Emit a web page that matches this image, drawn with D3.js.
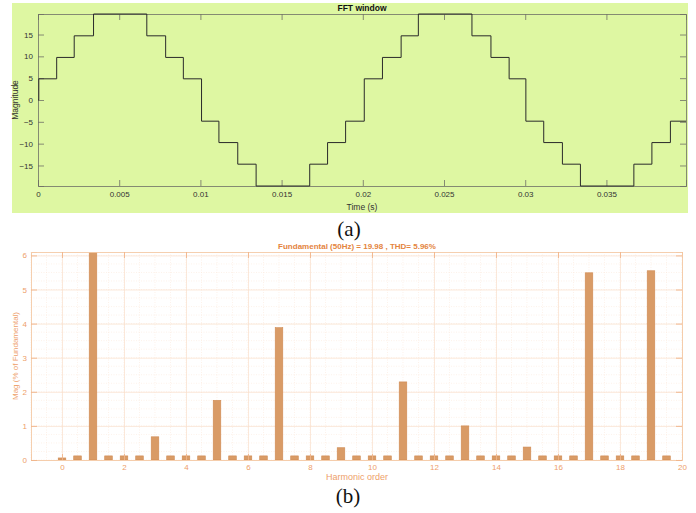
<!DOCTYPE html>
<html>
<head>
<meta charset="utf-8">
<script src="https://cdn.jsdelivr.net/npm/d3@7"></script>
<style>
  body { margin: 0; background: #fff; overflow: hidden; }
  text { font-family: 'Liberation Sans', Arial, sans-serif; }
</style>
</head>
<body>
<div id="chart"></div>
<script>
// (a) stepped inverter output, switching instants in ms and level after each instant
const waveTimes = [0, 0.05, 1.15, 2.23, 3.42, 6.70, 7.86, 8.95, 10.07, 11.14, 12.30, 13.43,
  16.73, 17.83, 18.94, 20.09, 21.21, 22.36, 23.42, 26.72, 27.89, 29.01, 30.04, 31.14,
  32.29, 33.40, 36.69, 37.80, 38.94, 39.9]
const waveLevels = [0, 4.85, 9.75, 14.7, 19.7, 14.7, 9.75, 4.85, -4.85, -9.75, -14.7, -19.7,
  -14.7, -9.75, -4.85, 4.85, 9.75, 14.7, 19.7, 14.7, 9.75, 4.85, -4.85, -9.75,
  -14.7, -19.7, -14.7, -9.75, -4.85, -4.85]
const timeTicks = [0, 0.005, 0.01, 0.015, 0.02, 0.025, 0.03, 0.035]
const magTicks = [-15, -10, -5, 0, 5, 10, 15]

// (b) harmonic spectrum, % of fundamental
const orders = [0, 0.5, 1, 1.5, 2, 2.5, 3, 3.5, 4, 4.5, 5, 5.5, 6, 6.5, 7, 7.5, 8, 8.5, 9, 9.5,
  10, 10.5, 11, 11.5, 12, 12.5, 13, 13.5, 14, 14.5, 15, 15.5, 16, 16.5, 17, 17.5, 18, 18.5, 19, 19.5]
const mags = [0.06, 0.12, 100, 0.12, 0.12, 0.12, 0.68, 0.12, 0.12, 0.12, 1.75, 0.12, 0.12, 0.12,
  3.88, 0.12, 0.12, 0.12, 0.36, 0.12, 0.12, 0.12, 2.29, 0.12, 0.12, 0.12, 1.0, 0.12, 0.12, 0.12,
  0.38, 0.12, 0.12, 0.12, 5.49, 0.12, 0.12, 0.12, 5.55, 0.12]
const orderTicks = [0, 2, 4, 6, 8, 10, 12, 14, 16, 18, 20]
const pctTicks = [0, 1, 2, 3, 4, 5, 6]

const W = 696
const H = 513

const svg = d3.select('#chart').append('svg')
  .attr('width', W)
  .attr('height', H)

// ---------- (a) ----------
const green = '#def7a2'
const gray = '#6f6f66'
const a = { left: 38, right: 686, top: 14, bottom: 186 }

svg.append('rect')
  .attr('x', 12).attr('y', 3)
  .attr('width', 676).attr('height', 210)
  .attr('fill', green)

const x1 = d3.scaleLinear().domain([0, 0.0399]).range([a.left, a.right])
const y1 = d3.scaleLinear().domain([-19.7, 19.7]).range([a.bottom, a.top])

const gA = svg.append('g')
const tick = 6

gA.append('g')
  .attr('transform', `translate(0,${a.bottom})`)
  .call(d3.axisBottom(x1).tickValues(timeTicks).tickSize(-tick).tickPadding(5)
    .tickFormat(d => d === 0 ? '0' : String(d)))
gA.append('g')
  .attr('transform', `translate(0,${a.top})`)
  .call(d3.axisTop(x1).tickValues(timeTicks).tickSize(-tick).tickFormat(''))
gA.append('g')
  .attr('transform', `translate(${a.left},0)`)
  .call(d3.axisLeft(y1).tickValues(magTicks).tickSize(-tick).tickPadding(5))
gA.append('g')
  .attr('transform', `translate(${a.right},0)`)
  .call(d3.axisRight(y1).tickValues(magTicks).tickSize(-tick).tickFormat(''))

gA.selectAll('.domain').attr('stroke', gray).attr('stroke-width', 0.8)
gA.selectAll('.tick line').attr('stroke', gray).attr('stroke-width', 0.8)
gA.selectAll('.tick text').attr('fill', '#333').style('font-size', '8px')

const wave = waveTimes.map((t, i) => ({ t: t / 1000, v: waveLevels[i] }))
svg.append('path')
  .datum(wave)
  .attr('fill', 'none')
  .attr('stroke', '#2a2a2a')
  .attr('stroke-width', 1)
  .attr('d', d3.line().curve(d3.curveStepAfter)
    .x(d => x1(d.t))
    .y(d => y1(d.v)))

svg.append('text')
  .attr('x', (a.left + a.right) / 2).attr('y', 11)
  .attr('text-anchor', 'middle')
  .style('font-size', '8.5px').style('font-weight', 'bold')
  .attr('fill', '#111')
  .text('FFT window')

svg.append('text')
  .attr('x', 362).attr('y', 210)
  .attr('text-anchor', 'middle')
  .style('font-size', '8.5px')
  .attr('fill', '#333')
  .text('Time (s)')

svg.append('text')
  .attr('transform', `translate(18,${(a.top + a.bottom) / 2}) rotate(-90)`)
  .attr('text-anchor', 'middle')
  .style('font-size', '8.5px')
  .attr('fill', '#333')
  .text('Magnitude')

svg.append('text')
  .attr('x', 349).attr('y', 236)
  .attr('text-anchor', 'middle')
  .style('font-family', "'Liberation Serif', 'Times New Roman', serif")
  .style('font-size', '21px')
  .attr('fill', '#111')
  .text('(a)')

// ---------- (b) ----------
const orange = '#eea06a'
const b = { left: 31, right: 682, top: 252, bottom: 460 }

const x2 = d3.scaleLinear().domain([-1, 20]).range([b.left, b.right])
const y2 = d3.scaleLinear().domain([0, 6.1]).range([b.bottom, b.top])

const gB = svg.append('g')

// minor grid
gB.append('g')
  .selectAll('line')
  .data(d3.range(-1, 20.01, 0.5))
  .join('line')
  .attr('x1', d => x2(d)).attr('x2', d => x2(d))
  .attr('y1', b.top).attr('y2', b.bottom)
  .attr('stroke', '#fbe9dc').attr('stroke-width', 0.6)
  .attr('stroke-dasharray', '1,1.5')
gB.append('g')
  .selectAll('line')
  .data(d3.range(0, 6.1, 0.25))
  .join('line')
  .attr('x1', b.left).attr('x2', b.right)
  .attr('y1', d => y2(d)).attr('y2', d => y2(d))
  .attr('stroke', '#fbe9dc').attr('stroke-width', 0.6)
  .attr('stroke-dasharray', '1,1.5')

// major grid
gB.append('g')
  .attr('transform', `translate(0,${b.bottom})`)
  .call(d3.axisBottom(x2).tickValues(orderTicks).tickSize(-(b.bottom - b.top)).tickFormat(''))
  .call(g => g.select('.domain').remove())
  .selectAll('line').attr('stroke', '#f9e0cc').attr('stroke-width', 0.7)
gB.append('g')
  .attr('transform', `translate(${b.left},0)`)
  .call(d3.axisLeft(y2).tickValues(pctTicks).tickSize(-(b.right - b.left)).tickFormat(''))
  .call(g => g.select('.domain').remove())
  .selectAll('line').attr('stroke', '#f9e0cc').attr('stroke-width', 0.7)

svg.append('clipPath').attr('id', 'clipB')
  .append('rect')
  .attr('x', b.left).attr('y', b.top)
  .attr('width', b.right - b.left).attr('height', b.bottom - b.top)

const barW = x2(0.245) - x2(0)
svg.append('g')
  .attr('clip-path', 'url(#clipB)')
  .selectAll('rect')
  .data(orders.map((o, i) => ({ o, m: mags[i] })))
  .join('rect')
  .attr('x', d => x2(d.o) - barW / 2)
  .attr('y', d => y2(Math.min(d.m, 6.3)))
  .attr('width', barW)
  .attr('height', d => b.bottom - y2(Math.min(d.m, 6.3)))
  .attr('fill', '#d99b66')
  .attr('stroke', '#cf8a52')
  .attr('stroke-width', 0.6)

// axes
const axB = svg.append('g')
axB.append('g')
  .attr('transform', `translate(0,${b.bottom})`)
  .call(d3.axisBottom(x2).tickValues(orderTicks).tickSize(-tick).tickPadding(4))
axB.append('g')
  .attr('transform', `translate(0,${b.top})`)
  .call(d3.axisTop(x2).tickValues(orderTicks).tickSize(-tick).tickFormat(''))
axB.append('g')
  .attr('transform', `translate(${b.left},0)`)
  .call(d3.axisLeft(y2).tickValues(pctTicks).tickSize(-tick).tickPadding(4)
    .tickFormat(d3.format('d')))
axB.append('g')
  .attr('transform', `translate(${b.right},0)`)
  .call(d3.axisRight(y2).tickValues(pctTicks).tickSize(-tick).tickFormat(''))

axB.selectAll('.domain').attr('stroke', '#f4c9a6').attr('stroke-width', 0.9)
axB.selectAll('.tick line').attr('stroke', '#f0b48a').attr('stroke-width', 0.9)
axB.selectAll('.tick text').attr('fill', orange).style('font-size', '8px')

svg.append('text')
  .attr('x', 357).attr('y', 249)
  .attr('text-anchor', 'middle')
  .style('font-size', '8px').style('font-weight', 'bold')
  .attr('fill', '#e4843e')
  .text('Fundamental (50Hz) = 19.98 , THD= 5.96%')

svg.append('text')
  .attr('x', 357).attr('y', 480)
  .attr('text-anchor', 'middle')
  .style('font-size', '9px')
  .attr('fill', orange)
  .text('Harmonic order')

svg.append('text')
  .attr('transform', `translate(18,${(b.top + b.bottom) / 2}) rotate(-90)`)
  .attr('text-anchor', 'middle')
  .style('font-size', '8px')
  .attr('fill', orange)
  .text('Mag (% of Fundamental)')

svg.append('text')
  .attr('x', 348).attr('y', 503)
  .attr('text-anchor', 'middle')
  .style('font-family', "'Liberation Serif', 'Times New Roman', serif")
  .style('font-size', '21px')
  .attr('fill', '#111')
  .text('(b)')
</script>
</body>
</html>
